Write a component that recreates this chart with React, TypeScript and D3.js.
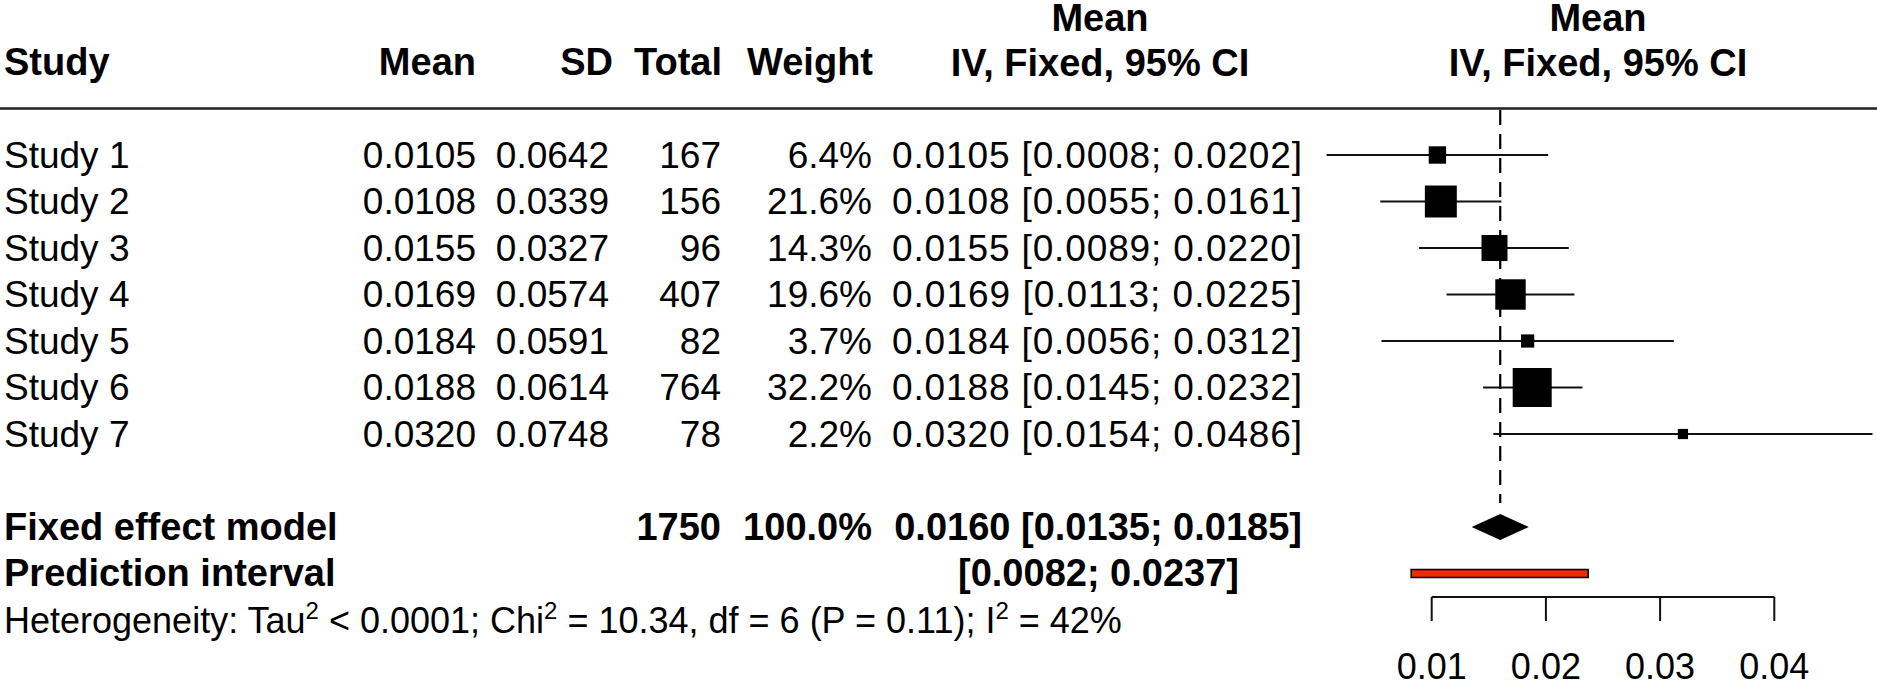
import React from "react";
import * as d3 from "d3";

const studies = ["Study 1", "Study 2", "Study 3", "Study 4", "Study 5", "Study 6", "Study 7"];
const means = [0.0105, 0.0108, 0.0155, 0.0169, 0.0184, 0.0188, 0.032];
const sds = [0.0642, 0.0339, 0.0327, 0.0574, 0.0591, 0.0614, 0.0748];
const totals = [167, 156, 96, 407, 82, 764, 78];
const weights = [6.4, 21.6, 14.3, 19.6, 3.7, 32.2, 2.2];
const lowers = [0.0008, 0.0055, 0.0089, 0.0113, 0.0056, 0.0145, 0.0154];
const uppers = [0.0202, 0.0161, 0.022, 0.0225, 0.0312, 0.0232, 0.0486];
const pooled = [0.016, 0.0135, 0.0185];
const pooledTotal = 1750;
const pooledWeight = 100.0;
const prediction = [0.0082, 0.0237];
const ticks = [0.01, 0.02, 0.03, 0.04];

const W = 1877;
const H = 683;
const FONT = "'Liberation Sans', Arial, Helvetica, sans-serif";
const FS = 37;
const FSB = 38;

export default function App() {
  const x = d3.scaleLinear().domain([0.01, 0.04]).range([1431.7, 1774.3]);
  const row = d3.scaleLinear().domain([0, 1]).range([155, 201.5]);
  const size = d3.scaleSqrt().domain([0, d3.max(weights) as number]).range([0, 39]);
  const f4 = d3.format(".4f");
  const f1 = d3.format(".1f");
  const base = 12.5;

  const colMean = 476;
  const colSD = 609;
  const colTotal = 721;
  const colWeight = 872;
  const colCI = 1302;
  const ciWidth = 410;

  const fixedY = row(8);
  const predY = row(9);
  const hetY = row(10);

  const diamond = [
    [x(pooled[1]), fixedY],
    [x(pooled[0]), fixedY - 13],
    [x(pooled[2]), fixedY],
    [x(pooled[0]), fixedY + 13],
  ];

  return (
    <svg
      width={W}
      height={H}
      style={{ position: "absolute", left: 0, top: 0, background: "#fff" }}
      fontFamily={FONT}
      fontSize={FS}
    >
      <rect x={0} y={0} width={W} height={H} fill="#fff" />
      {/* headers */}
      <g fontWeight="bold" fill="#000" fontSize={FSB}>
        <text x={4} y={75}>Study</text>
        <text x={colMean} y={75} textAnchor="end">Mean</text>
        <text x={colSD + 4} y={75} textAnchor="end">SD</text>
        <text x={colTotal + 1} y={75} textAnchor="end">Total</text>
        <text x={colWeight + 1} y={75} textAnchor="end">Weight</text>
        <text x={1100} y={31} textAnchor="middle">Mean</text>
        <text x={1100} y={76} textAnchor="middle">IV, Fixed, 95% CI</text>
        <text x={1598} y={31} textAnchor="middle">Mean</text>
        <text x={1598} y={76} textAnchor="middle">IV, Fixed, 95% CI</text>
      </g>
      <line x1={0} x2={W} y1={108.5} y2={108.5} stroke="#222" strokeWidth={2.5} />

      {/* reference line */}
      <line
        x1={x(pooled[0])}
        x2={x(pooled[0])}
        y1={110}
        y2={503}
        stroke="#000"
        strokeWidth={2.2}
        strokeDasharray="15 9"
      />

      {/* study rows */}
      {studies.map((s, i) => {
        const cy = row(i);
        const ty = cy + base;
        const sz = size(weights[i]);
        return (
          <g key={s}>
            <text x={4} y={ty}>{s}</text>
            <text x={colMean} y={ty} textAnchor="end">{f4(means[i])}</text>
            <text x={colSD} y={ty} textAnchor="end">{f4(sds[i])}</text>
            <text x={colTotal} y={ty} textAnchor="end">{totals[i]}</text>
            <text x={colWeight} y={ty} textAnchor="end">{f1(weights[i]) + "%"}</text>
            <text x={colCI - ciWidth} y={ty} textLength={ciWidth} lengthAdjust="spacing">
              {`${f4(means[i])} [${f4(lowers[i])}; ${f4(uppers[i])}]`}
            </text>
            <line
              x1={x(lowers[i])}
              x2={Math.min(x(uppers[i]), W)}
              y1={cy}
              y2={cy}
              stroke="#111"
              strokeWidth={2}
            />
            <rect x={x(means[i]) - sz / 2} y={cy - sz / 2} width={sz} height={sz} fill="#000" />
          </g>
        );
      })}

      {/* pooled */}
      <g fontWeight="bold" fontSize={FSB}>
        <text x={4} y={fixedY + base}>Fixed effect model</text>
        <text x={colTotal} y={fixedY + base} textAnchor="end">{pooledTotal}</text>
        <text x={colWeight} y={fixedY + base} textAnchor="end">{f1(pooledWeight) + "%"}</text>
        <text x={colCI} y={fixedY + base} textAnchor="end">
          {`${f4(pooled[0])} [${f4(pooled[1])}; ${f4(pooled[2])}]`}
        </text>
        <text x={4} y={predY + base}>Prediction interval</text>
        <text x={1239} y={predY + base} textAnchor="end">
          {`[${f4(prediction[0])}; ${f4(prediction[1])}]`}
        </text>
      </g>
      <polygon points={diamond.map((p) => p.join(",")).join(" ")} fill="#000" />
      <rect
        x={x(prediction[0])}
        y={predY - 4}
        width={x(prediction[1]) - x(prediction[0])}
        height={8}
        fill="#EE2A05"
        stroke="#000"
        strokeWidth={1.5}
      />

      {/* heterogeneity */}
      <text x={4} y={hetY + base} fontSize={36}>
        <tspan>Heterogeneity: Tau</tspan>
        <tspan fontSize={24} dy={-14}>2</tspan>
        <tspan dy={14}>{" < 0.0001; Chi"}</tspan>
        <tspan fontSize={24} dy={-14}>2</tspan>
        <tspan dy={14}>{" = 10.34, df = 6 (P = 0.11); I"}</tspan>
        <tspan fontSize={24} dy={-14}>2</tspan>
        <tspan dy={14}>{" = 42%"}</tspan>
      </text>

      {/* axis */}
      <g>
        <line x1={x(ticks[0])} x2={x(ticks[ticks.length - 1])} y1={597} y2={597} stroke="#111" strokeWidth={2} />
        {ticks.map((t) => (
          <g key={t}>
            <line x1={x(t)} x2={x(t)} y1={597} y2={621} stroke="#111" strokeWidth={2} />
            <text x={x(t)} y={679} textAnchor="middle" fontSize={36}>{d3.format(".2f")(t)}</text>
          </g>
        ))}
      </g>
    </svg>
  );
}
